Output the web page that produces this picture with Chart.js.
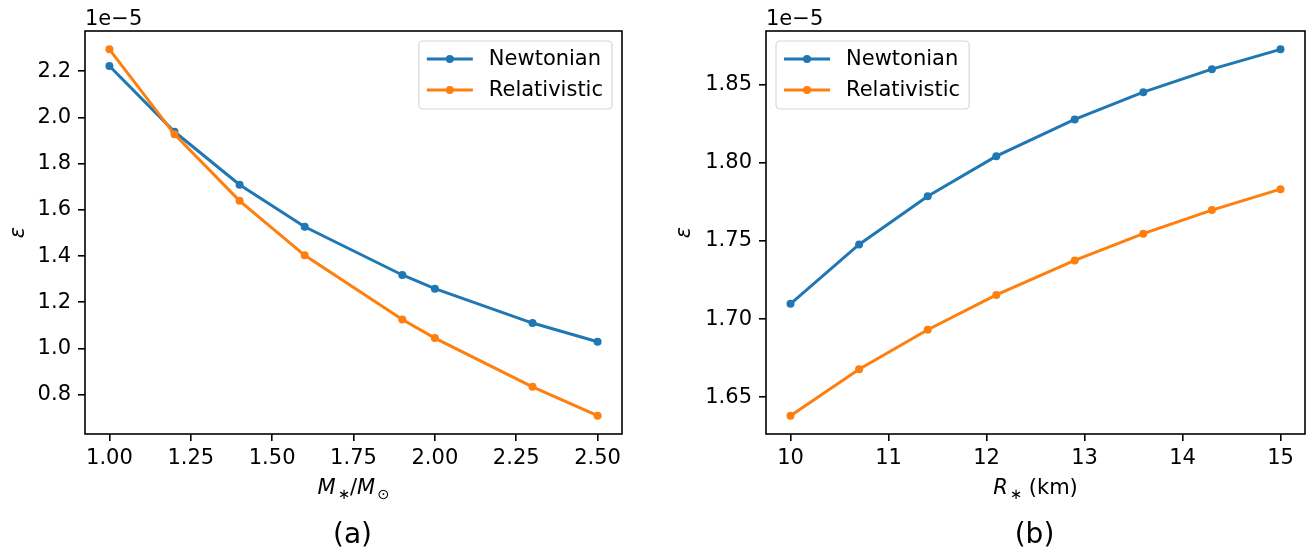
<!DOCTYPE html>
<html>
<head>
<meta charset="utf-8">
<script src="https://cdn.jsdelivr.net/npm/chart.js@4.4.1/dist/chart.umd.min.js"></script>
<style>
  body { margin: 0; background: #fff; width: 1313px; height: 549px; overflow: hidden; position: relative; }
  canvas { position: absolute; top: 0; }
</style>
</head>
<body>
<canvas id="chartA" width="660" height="549" style="left:0"></canvas>
<canvas id="chartB" width="653" height="549" style="left:660px"></canvas>
<script>
// values of epsilon are in units of 1e-5
const seriesLabels = ["Newtonian", "Relativistic"];
const seriesColors = ["#1f77b4", "#ff7f0e"];

const massValues = [1.0, 1.2, 1.4, 1.6, 1.9, 2.0, 2.3, 2.5];
const massNewtonian = [2.223, 1.938, 1.709, 1.527, 1.318, 1.259, 1.110, 1.029];
const massRelativistic = [2.295, 1.927, 1.639, 1.403, 1.125, 1.045, 0.834, 0.709];
const massTicks = [1.00, 1.25, 1.50, 1.75, 2.00, 2.25, 2.50];
const massEpsTicks = [0.8, 1.0, 1.2, 1.4, 1.6, 1.8, 2.0, 2.2];

const radiusValues = [10, 10.7, 11.4, 12.1, 12.9, 13.6, 14.3, 15];
const radiusNewtonian = [1.7098, 1.7478, 1.7787, 1.8043, 1.8278, 1.8453, 1.8600, 1.8727];
const radiusRelativistic = [1.6382, 1.6679, 1.6932, 1.7155, 1.7376, 1.7547, 1.7698, 1.7832];
const radiusTicks = [10, 11, 12, 13, 14, 15];
const radiusEpsTicks = [1.65, 1.70, 1.75, 1.80, 1.85];

const FONT = "'DejaVu Sans', sans-serif";
const FS = 21;

Chart.defaults.font.family = FONT;
Chart.defaults.font.size = FS;
Chart.defaults.color = "#000";

// matplotlib-like autoscale: 5% margin on each side
function padRange(...arrs) {
  const all = [].concat(...arrs);
  const lo = Math.min(...all), hi = Math.max(...all);
  const m = (hi - lo) * 0.05;
  return [lo - m, hi + m];
}

// full box around the axes
const framePlugin = {
  id: "frame",
  afterDatasetsDraw(chart) {
    const { ctx, chartArea: a } = chart;
    ctx.save();
    ctx.strokeStyle = "#000";
    ctx.lineWidth = 1.6;
    ctx.strokeRect(a.left, a.top, a.right - a.left, a.bottom - a.top);
    ctx.restore();
  }
};

// legend box inside the axes, like matplotlib's
const boxLegendPlugin = {
  id: "boxLegend",
  afterDatasetsDraw(chart, args, opts) {
    const { ctx, chartArea: a } = chart;
    const sets = chart.data.datasets;
    ctx.save();
    ctx.font = FS + "px " + FONT;
    const textW = Math.max(...sets.map(d => ctx.measureText(d.label).width));
    const w = 8 + 46 + 16 + textW + 9;
    const h = 68;
    const left = opts.corner === "right" ? a.right - 10 - w : a.left + 10;
    const top = a.top + 10;
    ctx.beginPath();
    ctx.roundRect(left, top, w, h, 4);
    ctx.fillStyle = "rgba(255,255,255,0.8)";
    ctx.fill();
    ctx.strokeStyle = "rgba(204,204,204,0.8)";
    ctx.lineWidth = 1.2;
    ctx.stroke();
    sets.forEach((d, i) => {
      const y = top + 18 + i * 31;
      ctx.strokeStyle = d.borderColor;
      ctx.lineWidth = 3;
      ctx.beginPath();
      ctx.moveTo(left + 8, y);
      ctx.lineTo(left + 54, y);
      ctx.stroke();
      ctx.fillStyle = d.borderColor;
      ctx.beginPath();
      ctx.arc(left + 31, y, 4, 0, Math.PI * 2);
      ctx.fill();
      ctx.fillStyle = "#000";
      ctx.textBaseline = "middle";
      ctx.textAlign = "left";
      ctx.fillText(d.label, left + 70, y + 1);
    });
    ctx.restore();
  }
};

// offset text, math-style x title and panel caption
const extraTextPlugin = {
  id: "extraText",
  afterDraw(chart, args, opts) {
    const { ctx, chartArea: a } = chart;
    ctx.save();
    ctx.fillStyle = "#000";
    ctx.textBaseline = "alphabetic";
    ctx.textAlign = "left";
    ctx.font = FS + "px " + FONT;
    ctx.fillText(opts.offsetText, a.left, 25);

    const cx = (a.left + a.right) / 2;
    const fontOf = p => (p.it ? "oblique " : "") + (p.sub ? FS * 0.7 : FS) + "px " + FONT;
    let total = 0;
    opts.xTitle.forEach(p => { ctx.font = fontOf(p); total += ctx.measureText(p.t).width + (p.sub ? 2 : 0); });
    let x = cx - total / 2;
    opts.xTitle.forEach(p => {
      ctx.font = fontOf(p);
      if (p.sub) x += 2;
      ctx.fillText(p.t, x, 494 + (p.sub ? 5 : 0));
      x += ctx.measureText(p.t).width;
    });

    ctx.font = "28px " + FONT;
    ctx.textAlign = "center";
    ctx.fillText(opts.caption, cx - 1, 543);
    ctx.restore();
  }
};

function makeChart(id, xs, seriesA, seriesB, xTicks, yTicks, xFmt, yFmt, layout, legendCorner, extra) {
  const [xMin, xMax] = padRange(xs);
  const [yMin, yMax] = padRange(seriesA, seriesB);
  const sets = [seriesA, seriesB].map((s, k) => ({
    label: seriesLabels[k],
    data: xs.map((x, i) => ({ x: x, y: s[i] })),
    borderColor: seriesColors[k],
    backgroundColor: seriesColors[k],
    pointBackgroundColor: seriesColors[k],
    borderWidth: 3,
    pointRadius: 4,
    pointBorderWidth: 0,
    tension: 0,
    order: 1 - k
  }));
  const tickGrid = { display: true, drawOnChartArea: false, drawTicks: true, tickLength: 7, color: "#000", lineWidth: 1.6 };
  return new Chart(document.getElementById(id), {
    type: "line",
    data: { datasets: sets },
    plugins: [framePlugin, boxLegendPlugin, extraTextPlugin],
    options: {
      responsive: false,
      devicePixelRatio: 1,
      animation: false,
      layout: { padding: { top: 31, right: layout.right, left: 0, bottom: 0 } },
      scales: {
        x: {
          type: "linear",
          min: xMin,
          max: xMax,
          grid: tickGrid,
          border: { display: false },
          afterBuildTicks: ax => { ax.ticks = xTicks.map(v => ({ value: v })); },
          afterFit: ax => { ax.height = 115; },
          ticks: { padding: 5, autoSkip: false, maxRotation: 0, callback: v => xFmt(v) }
        },
        y: {
          type: "linear",
          min: yMin,
          max: yMax,
          grid: tickGrid,
          border: { display: false },
          afterBuildTicks: ax => { ax.ticks = yTicks.map(v => ({ value: v })); },
          afterFit: ax => { ax.width = layout.yWidth; },
          ticks: { padding: 7, autoSkip: false, callback: v => yFmt(v) },
          title: { display: true, text: "ε", font: { style: "italic", size: FS }, padding: { top: layout.titlePad, bottom: 0 } }
        }
      },
      plugins: {
        legend: { display: false },
        tooltip: { enabled: false },
        boxLegend: { corner: legendCorner },
        extraText: extra
      }
    }
  });
}

makeChart("chartA", massValues, massNewtonian, massRelativistic, massTicks, massEpsTicks,
  v => v.toFixed(2), v => v.toFixed(1),
  { right: 38, yWidth: 85, titlePad: 5.5 }, "right",
  {
    offsetText: "1e\u22125",
    caption: "(a)",
    xTitle: [{ t: "M", it: true }, { t: "\u2217", sub: true }, { t: "/" }, { t: "M", it: true }, { t: "\u2299", sub: true }]
  });

makeChart("chartB", radiusValues, radiusNewtonian, radiusRelativistic, radiusTicks, radiusEpsTicks,
  v => String(v), v => v.toFixed(2),
  { right: 8, yWidth: 106, titlePad: 12 }, "left",
  {
    offsetText: "1e\u22125",
    caption: "(b)",
    xTitle: [{ t: "R", it: true }, { t: "\u2217", sub: true }, { t: " (km)" }]
  });
</script>
</body>
</html>
